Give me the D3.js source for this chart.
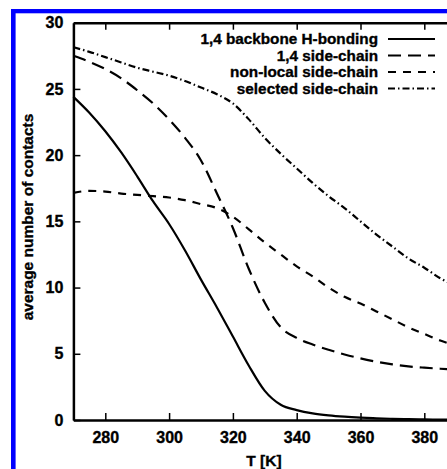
<!DOCTYPE html>
<html>
<head>
<meta charset="utf-8">
<script src="https://cdn.jsdelivr.net/npm/d3@7"></script>
<style>
  html, body { margin: 0; padding: 0; background: #fff; overflow: hidden; }
  svg { display: block; font-family: "Liberation Sans", Arial, sans-serif; font-weight: bold; }
</style>
</head>
<body>
<script>
const temps = [270, 275, 280, 285, 290, 295, 300, 305, 310, 315, 320, 325, 330, 335,
  340, 345, 350, 355, 360, 365, 370, 375, 380, 385, 390, 395, 400]

const backbone = [24.4, 23.2, 21.8, 20.2, 18.4, 16.5, 14.8, 12.8, 10.6, 8.5, 6.3, 4.1, 2.2, 1.15,
  0.75, 0.5, 0.35, 0.25, 0.18, 0.13, 0.09, 0.06, 0.04, 0.03, 0.02, 0.02, 0.01]
const sideChain14 = [27.5, 27.05, 26.5, 25.8, 24.9, 23.9, 22.7, 21.3, 19.6, 17.1, 14.5, 11.4, 8.85, 7.0,
  6.2, 5.7, 5.3, 4.95, 4.65, 4.4, 4.2, 4.05, 3.95, 3.87, 3.8, 3.75, 3.7]
const nonLocal = [17.15, 17.3, 17.25, 17.1, 17.0, 16.9, 16.8, 16.6, 16.3, 16.0, 15.35, 14.4, 13.4, 12.5,
  11.6, 10.85, 10.0, 9.3, 8.8, 8.2, 7.6, 7.0, 6.5, 6.0, 5.6, 5.2, 4.8]
const selected = [28.15, 27.8, 27.4, 27.0, 26.6, 26.3, 26.0, 25.6, 25.1, 24.6, 23.9, 22.7, 21.3, 20.1,
  19.0, 17.9, 16.9, 16.0, 15.0, 14.0, 13.1, 12.2, 11.5, 10.7, 10.1, 9.5, 8.9]

const seriesNames = ['1,4 backbone H-bonding', '1,4 side-chain', 'non-local side-chain', 'selected side-chain']
const xTicks = [280, 300, 320, 340, 360, 380]
const yTicks = [0, 5, 10, 15, 20, 25, 30]

const width = 447
const height = 469
const margin = { top: 22.7, left: 73.4, bottom: 49 }

const series = [
  { name: seriesNames[0], values: backbone, dash: null },
  { name: seriesNames[1], values: sideChain14, dash: '13,7' },
  { name: seriesNames[2], values: nonLocal, dash: '8,7' },
  { name: seriesNames[3], values: selected, dash: '7,3,1.5,3' },
]

const x = d3.scaleLinear().domain([270, 400]).range([margin.left, margin.left + 130 * 3.19])
const y = d3.scaleLinear().domain([0, 30]).range([height - margin.bottom, margin.top])

const svg = d3.select('body').append('svg').attr('width', width).attr('height', height)

// blue frame (left + top only, rest is cropped)
svg.append('rect').attr('x', 11).attr('y', 9).attr('width', 4.6).attr('height', height).attr('fill', '#0000ff')
svg.append('rect').attr('x', 11).attr('y', 9).attr('width', width).attr('height', 4.3).attr('fill', '#0000ff')

// bold-ish text like the original bitmap font
const heavy = sel => sel.attr('stroke', '#000').attr('stroke-width', 0.35).attr('fill', '#000')

const styleAxis = g => {
  g.select('.domain').attr('stroke-width', 2.5).attr('stroke', '#000')
  g.selectAll('.tick line').attr('stroke-width', 1.5).attr('stroke', '#000')
  g.selectAll('.tick text').attr('font-size', 16).attr('font-weight', 'bold')
    .attr('font-family', '"Liberation Sans", Arial, sans-serif')
    .call(heavy)
}

svg.append('g')
  .attr('transform', `translate(0,${y(0)})`)
  .call(d3.axisBottom(x).tickValues(xTicks).tickSizeInner(-7).tickSizeOuter(0).tickPadding(12))
  .call(styleAxis)

svg.append('g')
  .attr('transform', `translate(0,${y(30)})`)
  .call(d3.axisTop(x).tickValues(xTicks).tickSizeInner(-7).tickSizeOuter(0).tickFormat(''))
  .call(styleAxis)

svg.append('g')
  .attr('transform', `translate(${x(270)},0)`)
  .call(d3.axisLeft(y).tickValues(yTicks).tickSizeInner(-7).tickSizeOuter(0).tickPadding(10))
  .call(styleAxis)

const line = d3.line()
  .x((d, i) => x(temps[i]))
  .y(d => y(d))
  .curve(d3.curveMonotoneX)

svg.append('g')
  .selectAll('path')
  .data(series)
  .join('path')
  .attr('d', d => line(d.values))
  .attr('fill', 'none')
  .attr('stroke', '#000')
  .attr('stroke-width', 2.2)
  .attr('stroke-dasharray', d => d.dash)

// legend
const legend = svg.append('g')
const rowY = [39, 55.5, 72, 88.5]
series.forEach((s, i) => {
  legend.append('text')
    .attr('x', 378)
    .attr('y', rowY[i])
    .attr('dy', '0.35em')
    .attr('text-anchor', 'end')
    .attr('font-size', 15.3)
    .call(heavy)
    .text(s.name)
  legend.append('line')
    .attr('x1', 388).attr('x2', 435)
    .attr('y1', rowY[i]).attr('y2', rowY[i])
    .attr('stroke', '#000')
    .attr('stroke-width', 2.2)
    .attr('stroke-dasharray', s.dash)
})

svg.append('text')
  .attr('x', 264)
  .attr('y', 465.5)
  .attr('text-anchor', 'middle')
  .attr('font-size', 15.5)
  .call(heavy)
  .text('T [K]')

svg.append('text')
  .attr('transform', 'translate(33,217) rotate(-90)')
  .attr('text-anchor', 'middle')
  .attr('font-size', 15.5)
  .call(heavy)
  .text('average number of contacts')
</script>
</body>
</html>
